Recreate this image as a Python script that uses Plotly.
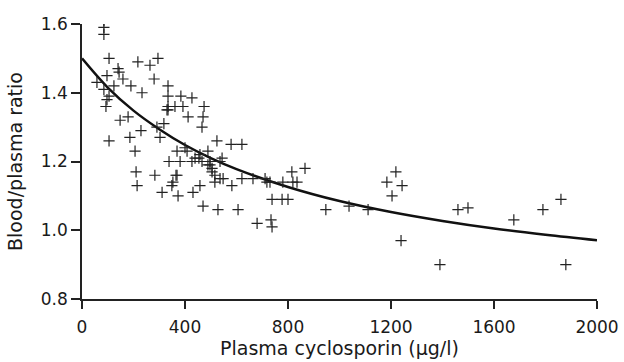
import plotly.graph_objects as go

# Scatter data: plasma cyclosporin (ug/l) vs blood/plasma ratio
conc = [85, 85, 85, 105, 140, 144, 159, 58, 85, 97, 190, 233, 105, 97, 93, 124,
        217, 264, 295, 280, 334, 334, 334, 334, 361, 384, 392, 427, 412, 474, 470,
        466, 148, 179, 229, 105, 186, 291, 303, 318, 330, 206, 210, 214, 283, 311,
        349, 365, 338, 369, 373, 408, 427, 431, 458, 470, 489, 497, 505, 489, 516,
        528, 544, 548, 582, 606, 621, 524, 579, 621, 664, 680, 439, 454, 400, 381,
        466, 458, 536, 516, 353, 718, 711, 730, 780, 815, 819, 835, 866, 738, 777,
        800, 947, 1037, 734, 738, 1111, 1184, 1204, 1219, 1243, 1239, 1390, 1460,
        1499, 1677, 1790, 1860, 1879, 536, 369, 497, 505]
ratio = [1.61, 1.59, 1.57, 1.50, 1.47, 1.46, 1.44, 1.43, 1.41, 1.45, 1.42, 1.40,
         1.39, 1.38, 1.36, 1.42, 1.49, 1.48, 1.50, 1.44, 1.42, 1.39, 1.36, 1.35,
         1.36, 1.39, 1.36, 1.385, 1.33, 1.36, 1.33, 1.30, 1.32, 1.33, 1.29, 1.26,
         1.27, 1.30, 1.27, 1.31, 1.35, 1.23, 1.17, 1.13, 1.16, 1.11, 1.13, 1.16,
         1.20, 1.23, 1.10, 1.23, 1.20, 1.11, 1.13, 1.07, 1.23, 1.19, 1.18, 1.19,
         1.14, 1.06, 1.21, 1.15, 1.13, 1.06, 1.15, 1.26, 1.25, 1.25, 1.15, 1.02,
         1.21, 1.21, 1.24, 1.20, 1.20, 1.22, 1.20, 1.16, 1.14, 1.14, 1.15, 1.14,
         1.14, 1.17, 1.14, 1.14, 1.18, 1.09, 1.09, 1.09, 1.06, 1.07, 1.03, 1.01,
         1.06, 1.14, 1.10, 1.17, 1.13, 0.97, 0.90, 1.06, 1.065, 1.03, 1.06, 1.09,
         0.90, 1.15, 1.16, 1.20, 1.17]

# Fitted curve
fit_x = [0, 100, 200, 300, 400, 500, 600, 800, 1000, 1200, 1400, 1600, 1800, 2000]
fit_y = [1.500, 1.415, 1.348, 1.294, 1.248, 1.210, 1.178, 1.126, 1.085, 1.053,
         1.027, 1.005, 0.987, 0.971]

x_ticks = [0, 400, 800, 1200, 1600, 2000]
y_ticks = [0.8, 1.0, 1.2, 1.4, 1.6]
y_tick_text = ["0.8", "1.0", "1.2", "1.4", "1.6"]

fig = go.Figure()
fig.add_trace(go.Scatter(
    x=fit_x, y=fit_y, mode="lines", line=dict(color="#111", width=2.5, shape="spline"),
    hoverinfo="skip", showlegend=False))
fig.add_trace(go.Scatter(
    x=conc, y=ratio, mode="markers",
    marker=dict(symbol="cross-thin", size=8, line=dict(color="#222", width=1.2)),
    showlegend=False))

font = "DejaVu Sans, Verdana, sans-serif"
fig.update_layout(
    width=624, height=362,
    margin=dict(l=82, r=27, t=24, b=63, autoexpand=False),
    paper_bgcolor="white", plot_bgcolor="white",
    font=dict(family=font, size=17, color="#1a1a1a"),
    xaxis=dict(range=[0, 2000], tickvals=x_ticks, ticks="outside", ticklen=8,
               tickwidth=1.5, tickcolor="#222", showline=True, linecolor="#222",
               linewidth=1.5, showgrid=False, zeroline=False, automargin=False,
               tickfont=dict(size=17), ticklabelstandoff=4,
               title=dict(text="Plasma cyclosporin (µg/l)", standoff=5,
                          font=dict(size=19))),
    yaxis=dict(range=[0.8, 1.6], tickvals=y_ticks, ticktext=y_tick_text,
               ticks="outside", ticklen=9, tickwidth=1.5, tickcolor="#222",
               showline=True, linecolor="#222", linewidth=1.5, showgrid=False,
               zeroline=False, automargin=False, tickfont=dict(size=17),
               title=dict(text="Blood/plasma ratio", standoff=13,
                          font=dict(size=19))),
)
fig.write_html("out.html")
